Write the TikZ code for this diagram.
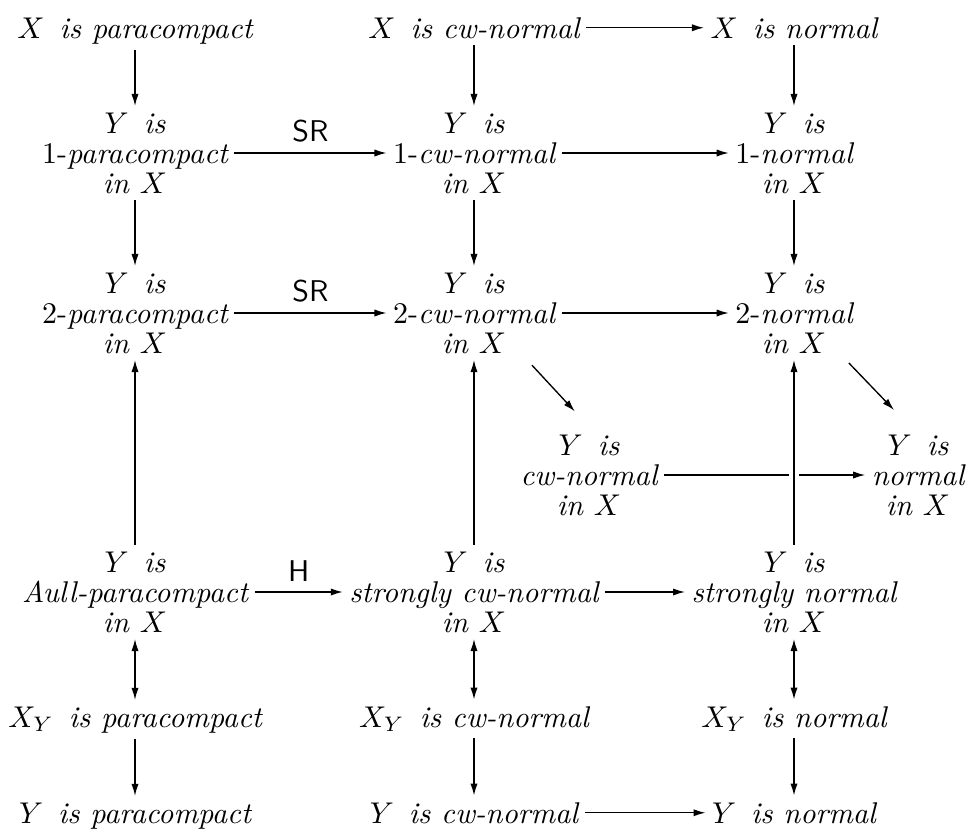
\documentclass[tikz,border=0pt]{standalone}
\usetikzlibrary{arrows.meta}
\begin{document}
\begin{tikzpicture}[x=0.3333pt, y=-0.3333pt,
    prop/.style={align=center, font=\fontsize{10}{10}\selectfont\itshape, inner sep=2pt},
    imp/.style={-{Latex[length=4pt,width=2.4pt]}, line width=0.45pt},
    eqv/.style={{Latex[length=4pt,width=2.4pt]}-{Latex[length=4pt,width=2.4pt]}, line width=0.45pt}]
  \useasboundingbox (0,0) rectangle (968,832);
  % spaces
  \node[prop, anchor=base] (xpara) at (135,38) {$X$\enspace is paracompact};
  \node[prop, anchor=base] (xcw) at (474,38) {$X$\enspace is cw-normal};
  \node[prop, anchor=base] (xnorm) at (794,38) {$X$\enspace is normal};
  % first stage
  \node[prop] (ypara1) at (135,153) {$Y$\enspace is\\\textup{1-}paracompact\\in $X$};
  \node[prop] (ycw1) at (474,153) {$Y$\enspace is\\\textup{1-}cw-normal\\in $X$};
  \node[prop] (ynorm1) at (794,153) {$Y$\enspace is\\\textup{1-}normal\\in $X$};
  % second stage
  \node[prop] (ypara2) at (135,313) {$Y$\enspace is\\\textup{2-}paracompact\\in $X$};
  \node[prop] (ycw2) at (474,313) {$Y$\enspace is\\\textup{2-}cw-normal\\in $X$};
  \node[prop] (ynorm2) at (794,313) {$Y$\enspace is\\\textup{2-}normal\\in $X$};
  \node[prop] (ycw) at (589,475) {$Y$\enspace is\\cw-normal\\in $X$};
  \node[prop] (ynorm) at (918,475) {$Y$\enspace is\\normal\\in $X$};
  % strong versions
  \node[prop] (yaull) at (135,592) {$Y$\enspace is\\Aull-paracompact\\in $X$};
  \node[prop] (yscw) at (474,592) {$Y$\enspace is\\strongly cw-normal\\in $X$};
  \node[prop] (ysnorm) at (794,592) {$Y$\enspace is\\strongly normal\\in $X$};
  % subspaces
  \node[prop, anchor=base] (xypara) at (135,727) {$X_Y$\enspace is paracompact};
  \node[prop, anchor=base] (xycw) at (474,727) {$X_Y$\enspace is cw-normal};
  \node[prop, anchor=base] (xynorm) at (794,727) {$X_Y$\enspace is normal};
  \node[prop, anchor=base] (ypara) at (135,823) {$Y$\enspace is paracompact};
  \node[prop, anchor=base] (yncw) at (474,823) {$Y$\enspace is cw-normal};
  \node[prop, anchor=base] (ynormal) at (794,823) {$Y$\enspace is normal};

  \draw[imp] (xpara) -- (ypara1);
  \draw[imp] (xcw) -- (ycw1);
  \draw[imp] (xcw) -- (xnorm);
  \draw[imp] (xnorm) -- (ynorm1);
  \draw[imp] (ypara1) -- node[above]{\textsf{SR}} (ycw1);
  \draw[imp] (ycw1) -- (ynorm1);
  \draw[imp] (ypara1) -- (ypara2);
  \draw[imp] (ycw1) -- (ycw2);
  \draw[imp] (ynorm1) -- (ynorm2);
  \draw[imp] (ypara2) -- node[above]{\textsf{SR}} (ycw2);
  \draw[imp] (ycw2) -- (ynorm2);
  \draw[imp] ([xshift=19.3pt,yshift=-1.7pt]ycw2.south) -- ([xshift=-4.7pt,yshift=5.5pt]ycw.north);
  \draw[imp] ([xshift=18.3pt,yshift=-1pt]ynorm2.south) -- ([xshift=-8pt,yshift=6pt]ynorm.north);
  \draw[imp] (ycw) -- (ynorm);
  \draw[imp] (yaull) -- (ypara2);
  \draw[imp] (yscw) -- (ycw2);
  \draw[imp, preaction={draw=white, line width=3.5pt, -}] (ysnorm) -- (ynorm2);
  \draw[imp] (yaull) -- node[above]{\textsf{H}} (yscw);
  \draw[imp] (yscw) -- (ysnorm);
  \draw[eqv] (yaull) -- (xypara);
  \draw[eqv] (yscw) -- (xycw);
  \draw[eqv] (ysnorm) -- (xynorm);
  \draw[imp] (xypara) -- (ypara);
  \draw[imp] (xycw) -- (yncw);
  \draw[imp] (xynorm) -- (ynormal);
  \draw[imp] (yncw) -- (ynormal);
\end{tikzpicture}
\end{document}
